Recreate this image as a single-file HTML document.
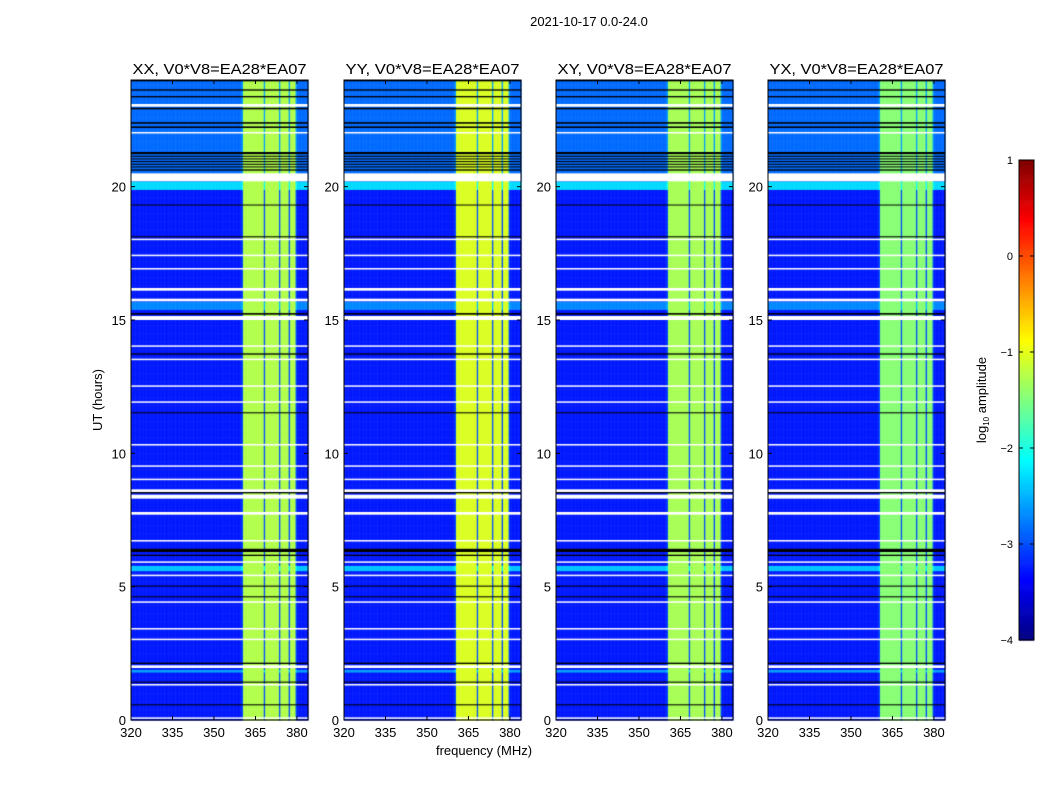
<!DOCTYPE html>
<html><head><meta charset="utf-8"><style>
body{margin:0;background:#fff;width:1050px;height:800px;overflow:hidden;font-family:"Liberation Sans",sans-serif}
#wrap{position:relative;width:1050px;height:800px}
canvas,svg{position:absolute;left:0;top:0}
</style></head><body><div id="wrap">
<canvas id="cv" width="1050" height="800"></canvas>
<svg id="sv" width="1050" height="800"></svg>
</div>
<script>
// ---- data ----
const panelTitles=["XX, V0*V8=EA28*EA07","YY, V0*V8=EA28*EA07","XY, V0*V8=EA28*EA07","YX, V0*V8=EA28*EA07"];
const panelBandLevel=[-1.25,-1.05,-1.3,-1.45];
const xTicks=[320,335,350,365,380];
const yTicks=[0,5,10,15,20];
const cbTicks=[-4,-3,-2,-1,0,1];
const chanFreqs=[];for(let f=320;f<384;f+=0.5)chanFreqs.push(f);
const brightRanges=[[360.5,368],[368.5,373.3],[373.8,377.2],[377.7,379.5]];
const timeBg=[[0,19.9,-3.25],[19.9,20.2,-2.3],[20.2,24,-2.85],[15.4,15.7,-2.7],[5.6,5.8,-2.4],[1.8,1.95,-2.6]];
const whiteFlags=[[20.2,20.5],[15.0,15.15],[15.7,15.8],[16.1,16.2],[8.3,8.45],[8.55,8.65],[7.7,7.8],[1.95,2.05],[23.0,23.1],[22.0,22.05],[18.0,18.05],[17.4,17.45],[16.9,16.95],[14.0,14.05],[13.5,13.55],[12.5,12.55],[11.9,11.95],[10.3,10.35],[9.5,9.55],[9.0,9.05],[6.7,6.75],[5.9,5.95],[5.4,5.45],[4.4,4.45],[3.4,3.45],[3.0,3.05],[1.3,1.35],[0.05,0.1]];
const blackFlags=[[20.6,20.65],[20.72,20.76],[20.82,20.86],[20.92,20.96],[21.02,21.06],[21.12,21.16],[21.22,21.3],[22.2,22.26],[22.36,22.42],[22.9,22.96],[23.35,23.4],[23.6,23.65],[23.95,24],[15.2,15.26],[13.7,13.75],[11.5,11.54],[8.5,8.55],[6.3,6.42],[6.15,6.2],[5.0,5.04],[4.6,4.64],[2.1,2.15],[1.4,1.44],[0.55,0.59],[18.1,18.14],[19.3,19.33]];
// ---- layout ----
const panelX=[131,344,556,768],PW=177,PT=80,PB=720;
const fmin=320,fmax=384,tmin=0,tmax=24;
function xs(i,f){return panelX[i]+(f-fmin)/(fmax-fmin)*PW}
function ys(t){return PB-(t-tmin)/(tmax-tmin)*(PB-PT)}
const cbX=1019,cbW=15,cbT=160,cbB=640;
function cy(v){return cbB-(v+4)/5*(cbB-cbT)}
function jet(v){let x=(v+4)/5;x=Math.max(0,Math.min(1,x));
 const r=Math.max(0,Math.min(1,1.5-Math.abs(4*x-3))),g=Math.max(0,Math.min(1,1.5-Math.abs(4*x-2))),b=Math.max(0,Math.min(1,1.5-Math.abs(4*x-1)));
 return `rgb(${r*255|0},${g*255|0},${b*255|0})`}
const ctx=document.getElementById('cv').getContext('2d');
function bgAt(t){let v=-3.25;for(const s of timeBg){if(t>=s[0]&&t<s[1])v=s[2]}return v}
function inBright(f){for(const r of brightRanges){if(f+0.25>=r[0]&&f+0.25<r[1])return true}return false}
const dt=0.1;
for(let i=0;i<4;i++){
 for(let t=0;t<24;t+=dt){
  const bg=bgAt(t+dt/2);
  for(const f of chanFreqs){
   const v=inBright(f)?panelBandLevel[i]:(f>=360&&f<380?bg+0.25:bg);
   ctx.fillStyle=jet(v);
   const x0=xs(i,f),x1=xs(i,Math.min(f+0.5,fmax));
   ctx.fillRect(x0,ys(t+dt),x1-x0+0.5,ys(t)-ys(t+dt)+0.5);
  }
 }
 for(const w of whiteFlags){ctx.fillStyle='#fff';ctx.fillRect(panelX[i],ys(w[1]),PW,Math.max(1.5,ys(w[0])-ys(w[1])))}
 for(const b of blackFlags){ctx.fillStyle='#000';ctx.fillRect(panelX[i],ys(b[1]),PW,Math.max(1,ys(b[0])-ys(b[1])))}
}
for(let v=-4;v<1;v+=0.02){ctx.fillStyle=jet(v+0.01);ctx.fillRect(cbX,cy(v+0.02),cbW,cy(v)-cy(v+0.02)+0.6)}
// ---- svg ----
const NS='http://www.w3.org/2000/svg',sv=document.getElementById('sv');
function mk(tag,attrs,txt){const e=document.createElementNS(NS,tag);for(const k in attrs)e.setAttribute(k,attrs[k]);if(txt!==undefined)e.textContent=txt;sv.appendChild(e);return e}
let e=mk('text',{x:589,y:26,'font-size':13,'text-anchor':'middle'},'2021-10-17 0.0-24.0');


for(let i=0;i<4;i++){
 e=mk('rect',{x:panelX[i],y:PT,width:PW,height:PB-PT,fill:'none',stroke:'#000','stroke-width':1});
 
 
 e=mk('text',{x:panelX[i]+PW/2,y:74,'font-size':15,'text-anchor':'middle',textLength:174,lengthAdjust:'spacingAndGlyphs'},panelTitles[i]);
 
 
 for(const f of xTicks){const x=xs(i,f);
  mk('line',{x1:x,x2:x,y1:PB,y2:PB-4,stroke:'#000'});mk('line',{x1:x,x2:x,y1:PT,y2:PT+4,stroke:'#000'});
  e=mk('text',{x:x,y:PB+17,'font-size':13,'text-anchor':'middle'},f);
  
  }
 for(const t of yTicks){const y=ys(t);
  mk('line',{x1:panelX[i],x2:panelX[i]+4,y1:y,y2:y,stroke:'#000'});mk('line',{x1:panelX[i]+PW,x2:panelX[i]+PW-4,y1:y,y2:y,stroke:'#000'});
  e=mk('text',{x:panelX[i]-5,y:y+5,'font-size':13,'text-anchor':'end'},t);
  
  }
}
e=mk('text',{x:484,y:755,'font-size':13,'text-anchor':'middle'},'frequency (MHz)');


e=mk('text',{x:102,y:400,'font-size':13,'text-anchor':'middle',transform:'rotate(-90 102 400)'},'UT (hours)');


e=mk('rect',{x:cbX,y:cbT,width:cbW,height:cbB-cbT,fill:'none',stroke:'#000'});


for(const v of cbTicks){const y=cy(v);
 mk('line',{x1:cbX,x2:cbX+4,y1:y,y2:y,stroke:'#000'});mk('line',{x1:cbX+cbW,x2:cbX+cbW-4,y1:y,y2:y,stroke:'#000'});
 e=mk('text',{x:1013,y:y+4,'font-size':11,'text-anchor':'end'},v<0?'\u2212'+(-v):v);
 
 }
e=mk('text',{x:986,y:400,'font-size':13,'text-anchor':'middle',transform:'rotate(-90 986 400)'});


e.innerHTML='log<tspan font-size="8" dy="3">10</tspan><tspan dy="-3"> amplitude</tspan>';
</script></body></html>
